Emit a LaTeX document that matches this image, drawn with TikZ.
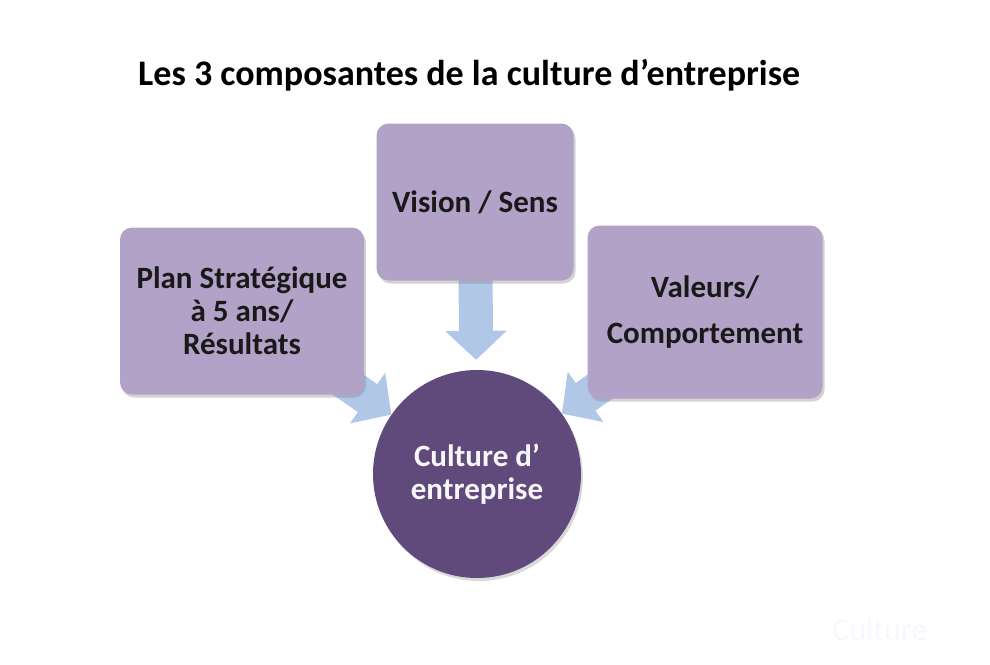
\documentclass[tikz,border=0pt]{standalone}
\usepackage{fontspec}
\setmainfont{Carlito}
\usepackage{tikz}
\usetikzlibrary{arrows.meta,shadows,shapes}
\pgfdeclarelayer{background}
\pgfsetlayers{background,main}
\definecolor{boxfill}{HTML}{B3A2C7}
\definecolor{corefill}{HTML}{604A7B}
\definecolor{arrowfill}{HTML}{B0C7E8}
\definecolor{faint}{HTML}{F5F8FC}
\begin{document}
\begin{tikzpicture}[x=1pt,y=-1pt]
            \tikzstyle{part}=[rectangle, rounded corners=12pt, fill=boxfill, align=center, text=black!90, font=\bfseries\fontsize{31}{33}\selectfont, drop shadow={shadow xshift=2pt, shadow yshift=-3pt, opacity=0.35}]
            \tikzstyle{core}=[circle, minimum size=208pt, inner sep=0pt, fill=corefill, align=center, text=white!95!corefill, font=\bfseries\fontsize{31}{33}\selectfont, drop shadow={shadow xshift=2pt, shadow yshift=-3pt, opacity=0.3}]
            \tikzstyle{connect}=[draw=arrowfill, line width=34pt, -{Triangle[width=60pt, length=29pt]}]
            \useasboundingbox (0,0) rectangle (990,664);
            \node[anchor=base west, inner sep=0pt, font=\bfseries\fontsize{36}{40}\selectfont] (title) at (138,85){Les 3 composantes de la culture d’entreprise};
            \node[part, minimum width=244pt, minimum height=167pt] (plan) at (242,311){Plan Stratégique\\ à 5 ans/\\ Résultats};
            \node[part, minimum width=197pt, minimum height=157pt] (vision) at (475,202){Vision / Sens};
            \node[part, minimum width=235pt, minimum height=173pt, font=\bfseries\fontsize{31}{46}\selectfont] (valeurs) at (705,312){Valeurs/\\ Comportement};
            \node[core] (culture) at (477,474){Culture d’\\ entreprise};
            \node[anchor=base west, inner sep=0pt, text=faint, font=\fontsize{32}{36}\selectfont] (ghost) at (832,640){Culture};
            \begin{pgfonlayer}{background}
            \path (vision.center) edge [connect, shorten >=10pt] (culture);
            \path (plan.center) edge [connect] (culture);
            \path (valeurs.center) edge [connect] (culture);
            \end{pgfonlayer}
        \end{tikzpicture}
\end{document}
